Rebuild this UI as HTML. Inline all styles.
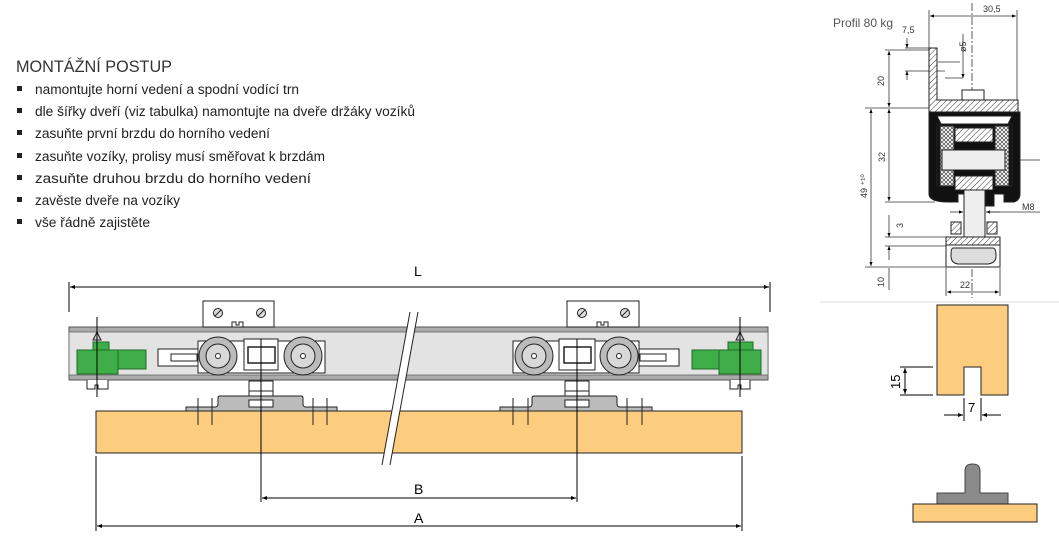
<!DOCTYPE html>
<html><head><meta charset="utf-8"><style>
html,body{margin:0;padding:0;background:#fff;}
svg{display:block;}
text{font-family:"Liberation Sans",sans-serif;}
</style></head><body>
<svg width="1059" height="553" viewBox="0 0 1059 553" xmlns="http://www.w3.org/2000/svg">
<defs>
<pattern id="h" width="4" height="4" patternUnits="userSpaceOnUse" patternTransform="rotate(45)"><rect width="4" height="4" fill="#fff"/><line x1="0" y1="0" x2="0" y2="4" stroke="#333" stroke-width="1"/></pattern>
<pattern id="x" width="4" height="4" patternUnits="userSpaceOnUse"><rect width="4" height="4" fill="#fff"/><path d="M0 0L4 4M4 0L0 4" stroke="#444" stroke-width="0.7"/></pattern>
<marker id="a" viewBox="0 0 10 10" refX="10" refY="5" markerWidth="7" markerHeight="5" orient="auto-start-reverse"><path d="M0 1L10 5L0 9z" fill="#000"/></marker>
</defs>

<!-- Text -->
<text x="16" y="72" font-size="17" fill="#333" textLength="156" lengthAdjust="spacingAndGlyphs">MONTÁŽNÍ POSTUP</text>
<g font-size="13.5" fill="#222">
<rect x="17" y="86" width="5" height="5" fill="#222"/><text x="35" y="94" textLength="264" lengthAdjust="spacingAndGlyphs">namontujte horní vedení a spodní vodící trn</text>
<rect x="17" y="108" width="5" height="5" fill="#222"/><text x="35" y="116" textLength="380" lengthAdjust="spacingAndGlyphs">dle šířky dveří (viz tabulka) namontujte na dveře držáky vozíků</text>
<rect x="17" y="130" width="5" height="5" fill="#222"/><text x="35" y="138" textLength="235" lengthAdjust="spacingAndGlyphs">zasuňte první brzdu do horního vedení</text>
<rect x="17" y="153" width="5" height="5" fill="#222"/><text x="35" y="161" textLength="290" lengthAdjust="spacingAndGlyphs">zasuňte vozíky, prolisy musí směřovat k brzdám</text>
<rect x="17" y="175" width="5" height="5" fill="#222"/><text x="35" y="183" textLength="276" lengthAdjust="spacingAndGlyphs">zasuňte druhou brzdu do horního vedení</text>
<rect x="17" y="197" width="5" height="5" fill="#222"/><text x="35" y="205" textLength="145" lengthAdjust="spacingAndGlyphs">zavěste dveře na vozíky</text>
<rect x="17" y="219" width="5" height="5" fill="#222"/><text x="35" y="227" textLength="115" lengthAdjust="spacingAndGlyphs">vše řádně zajistěte</text>
</g>

<!-- L dimension -->
<g stroke="#000" stroke-width="1" fill="none">
<line x1="69" y1="282" x2="69" y2="312"/><line x1="770" y1="282" x2="770" y2="312"/>
<line x1="70" y1="287" x2="769" y2="287" marker-start="url(#a)" marker-end="url(#a)"/>
</g>
<text x="414" y="276" font-size="14">L</text>

<!-- Rail -->
<rect x="69" y="327" width="699" height="53" fill="#aaa" stroke="#555" stroke-width="1"/>
<rect x="69" y="332" width="699" height="43" fill="#e3e3e3" stroke="#666" stroke-width="0.8"/>

<!-- Door -->
<rect x="96" y="411" width="646" height="42" fill="#fccd7e" stroke="#222" stroke-width="1"/>

<!-- carriages -->
<g stroke="#222" stroke-width="1">
<rect x="203" y="301" width="71" height="26" fill="#fff"/>
<circle cx="218" cy="313" r="4.5" fill="#ddd"/><line x1="215" y1="316" x2="221" y2="310"/>
<circle cx="261" cy="313" r="4.5" fill="#ddd"/><line x1="258" y1="316" x2="264" y2="310"/>
<path d="M232 327v-5h4v3h3v-3h4v5" fill="none"/>
<rect x="158" y="349" width="40" height="17" fill="#fff"/>
<rect x="171" y="354" width="26" height="7" fill="#fff"/>
<rect x="198" y="341" width="127" height="32" fill="#fff"/>
<rect x="244" y="339" width="34" height="31" fill="#fff"/>
<rect x="248" y="347" width="27" height="16" fill="#fff" stroke-width="1.5"/>
<circle cx="218" cy="356" r="19" fill="#bbb"/><circle cx="218" cy="356" r="12" fill="#d8d8d8"/><circle cx="218" cy="356" r="2.5" fill="#fff"/>
<circle cx="303" cy="356" r="19" fill="#bbb"/><circle cx="303" cy="356" r="12" fill="#d8d8d8"/><circle cx="303" cy="356" r="2.5" fill="#fff"/>
<rect x="249" y="381" width="24" height="10" fill="#fff"/>
<rect x="249" y="391" width="24" height="6" fill="#fff"/>
<path d="M186 411v-4h29q3 0 3-3v-6q0-2 2-2h81q2 0 2 2v6q0 3 3 3h31v4z" fill="#bbb"/>
<rect x="249" y="400" width="24" height="7" fill="#fff"/>
<line x1="198" y1="398" x2="198" y2="425"/><line x1="212" y1="398" x2="212" y2="425"/>
<line x1="313" y1="398" x2="313" y2="425"/><line x1="327" y1="398" x2="327" y2="425"/>
</g>
<g stroke="#222" stroke-width="1">
<rect x="567" y="301" width="72" height="26" fill="#fff"/>
<circle cx="582" cy="313" r="4.5" fill="#ddd"/><line x1="579" y1="316" x2="585" y2="310"/>
<circle cx="625" cy="313" r="4.5" fill="#ddd"/><line x1="622" y1="316" x2="628" y2="310"/>
<path d="M597 327v-5h4v3h3v-3h4v5" fill="none"/>
<rect x="639" y="349" width="40" height="17" fill="#fff"/>
<rect x="640" y="354" width="26" height="7" fill="#fff"/>
<rect x="513" y="341" width="126" height="32" fill="#fff"/>
<rect x="559" y="339" width="36" height="31" fill="#fff"/>
<rect x="564" y="347" width="27" height="16" fill="#fff" stroke-width="1.5"/>
<circle cx="534" cy="356" r="19" fill="#bbb"/><circle cx="534" cy="356" r="12" fill="#d8d8d8"/><circle cx="534" cy="356" r="2.5" fill="#fff"/>
<circle cx="619" cy="356" r="19" fill="#bbb"/><circle cx="619" cy="356" r="12" fill="#d8d8d8"/><circle cx="619" cy="356" r="2.5" fill="#fff"/>
<rect x="565" y="381" width="24" height="10" fill="#fff"/>
<rect x="565" y="391" width="24" height="6" fill="#fff"/>
<path d="M500 411v-4h29q3 0 3-3v-6q0-2 2-2h81q2 0 2 2v6q0 3 3 3h32v4z" fill="#bbb"/>
<rect x="565" y="400" width="24" height="7" fill="#fff"/>
<line x1="513" y1="398" x2="513" y2="425"/><line x1="528" y1="398" x2="528" y2="425"/>
<line x1="627" y1="398" x2="627" y2="425"/><line x1="642" y1="398" x2="642" y2="425"/>
</g>

<!-- green stops -->
<g fill="#3fae49" stroke="#1f6a25" stroke-width="1">
<rect x="93" y="342" width="16" height="8"/><rect x="77" y="350" width="41" height="24"/><rect x="118" y="350" width="28" height="19"/>
<rect x="728" y="342" width="25" height="8"/><rect x="719" y="350" width="42" height="24"/><rect x="692" y="350" width="27" height="19"/>
</g>
<g stroke="#222" stroke-width="1" fill="#fff">
<path d="M87 380v9h8v-4h3v4h10v-9"/>
<path d="M730 380v9h8v-4h3v4h9v-9"/>
<path d="M93 340l4-8 4 8z" fill="#ccc"/><path d="M736 340l4-8 4 8z" fill="#ccc"/>
</g>
<g stroke="#000" stroke-width="1">
<line x1="97" y1="317" x2="97" y2="397"/><line x1="740" y1="317" x2="740" y2="397"/>
<line x1="261" y1="339" x2="261" y2="502"/><line x1="577" y1="339" x2="577" y2="502"/>
<line x1="96" y1="456" x2="96" y2="531"/><line x1="742" y1="456" x2="742" y2="531"/>
<line x1="262" y1="498" x2="576" y2="498" marker-start="url(#a)" marker-end="url(#a)"/>
<line x1="97" y1="526" x2="741" y2="526" marker-start="url(#a)" marker-end="url(#a)"/>
</g>
<text x="414" y="494" font-size="14">B</text>
<text x="414" y="523" font-size="14">A</text>

<!-- break -->
<polygon points="410,312 418,312 390,465 382,465" fill="#fff"/>
<line x1="410" y1="312" x2="382" y2="465" stroke="#222"/>
<line x1="418" y1="312" x2="390" y2="465" stroke="#222"/>

<!-- Right section drawing -->
<text x="833" y="27" font-size="12" fill="#555">Profil 80 kg</text>
<line x1="820" y1="302" x2="1059" y2="302" stroke="#ddd"/>
<g stroke="#333" stroke-width="0.8" fill="none" font-size="9">
<line x1="972" y1="3" x2="972" y2="298" stroke-dasharray="8 2 2 2"/>
<line x1="929" y1="10" x2="929" y2="48"/><line x1="1017" y1="10" x2="1017" y2="100"/>
<line x1="930" y1="16" x2="1016" y2="16" marker-start="url(#a)" marker-end="url(#a)"/>
<line x1="885" y1="50" x2="929" y2="50"/><line x1="865" y1="108" x2="929" y2="108"/>
<line x1="885" y1="202" x2="935" y2="202"/><line x1="885" y1="237" x2="946" y2="237"/><line x1="885" y1="246" x2="946" y2="246"/>
<line x1="865" y1="267" x2="946" y2="267"/>
<line x1="889" y1="51" x2="889" y2="107" marker-start="url(#a)" marker-end="url(#a)"/>
<line x1="889" y1="109" x2="889" y2="201" marker-start="url(#a)" marker-end="url(#a)"/>
<line x1="889" y1="215" x2="889" y2="237" marker-end="url(#a)"/><line x1="889" y1="260" x2="889" y2="246" marker-end="url(#a)"/>
<line x1="889" y1="268" x2="889" y2="290"/>
<line x1="871" y1="109" x2="871" y2="266" marker-start="url(#a)" marker-end="url(#a)"/>
<line x1="907" y1="38" x2="907" y2="48" marker-end="url(#a)"/><line x1="907" y1="80" x2="907" y2="71" marker-end="url(#a)"/>
<line x1="905" y1="48" x2="935" y2="48"/><line x1="905" y1="71" x2="945" y2="71"/>
<line x1="963" y1="34" x2="963" y2="78" marker-end="url(#a)"/>
<line x1="938" y1="62" x2="960" y2="62"/><line x1="945" y1="78" x2="963" y2="78"/>
<line x1="946" y1="268" x2="946" y2="296"/><line x1="1000" y1="268" x2="1000" y2="296"/>
<line x1="947" y1="292" x2="999" y2="292" marker-start="url(#a)" marker-end="url(#a)"/>
<line x1="950" y1="212" x2="963" y2="212" marker-end="url(#a)"/><line x1="1000" y1="212" x2="986" y2="212" marker-end="url(#a)"/>
<line x1="986" y1="212" x2="1040" y2="212"/>
<line x1="1000" y1="160" x2="1040" y2="160"/>
</g>
<g font-size="9" fill="#333">
<text x="983" y="12">30,5</text>
<text x="902" y="33">7,5</text>
<text x="1022" y="210">M8</text>
<text x="960" y="288">22</text>
<text transform="translate(884,86) rotate(-90)">20</text>
<text transform="translate(885,162) rotate(-90)">32</text>
<text transform="translate(867,198) rotate(-90)">49 ⁺¹⁰</text>
<text transform="translate(903,228) rotate(-90)">3</text>
<text transform="translate(884,287) rotate(-90)">10</text>
<text transform="translate(966,52) rotate(-90)">ø5</text>
</g>
<g stroke="#222" stroke-width="1">
<path d="M929 48h8v52h81v12h-89z" fill="url(#h)"/>
<rect x="962" y="90" width="22" height="10" fill="#fff"/>
<path d="M929 112h91v82q0 6-6 8h-10v-8h-10v12h-26v-12h-10v8h-10q-19 0-19-8z" fill="#111"/>
<path d="M937 116h75l-4 8h-67z" fill="#fff"/>
<path d="M937 124h75v62h-75z" fill="#111"/>
<rect x="940" y="126" width="14" height="60" fill="url(#x)"/>
<rect x="995" y="126" width="14" height="60" fill="url(#x)"/>
<rect x="955" y="128" width="38" height="14" fill="url(#h)"/>
<rect x="955" y="176" width="38" height="14" fill="url(#h)"/>
<rect x="942" y="150" width="63" height="20" fill="#eee"/>
<rect x="964" y="190" width="21" height="48" fill="#eee"/>
<rect x="951" y="222" width="10" height="12" fill="url(#h)"/><rect x="987" y="222" width="10" height="12" fill="url(#h)"/>
<rect x="946" y="237" width="54" height="8" fill="url(#h)"/>
<path d="M946 245h54v22h-54z" fill="#fff"/>
<path d="M953 248h40q3 0 3 8q0 7-8 8h-30q-7-1-7-8q0-8 2-8z" fill="#ddd"/>
</g>

<!-- bottom right shapes -->
<path d="M937 305h71v90h-27v-28h-17v28h-27z" fill="#fccd7e" stroke="#222"/>
<g stroke="#000" stroke-width="1" fill="none">
<line x1="900" y1="367" x2="933" y2="367"/><line x1="900" y1="395" x2="933" y2="395"/>
<line x1="905" y1="368" x2="905" y2="394" marker-start="url(#a)" marker-end="url(#a)"/>
<line x1="964" y1="398" x2="964" y2="421"/><line x1="981" y1="398" x2="981" y2="421"/>
<line x1="944" y1="415" x2="963" y2="415" marker-end="url(#a)"/><line x1="1001" y1="415" x2="982" y2="415" marker-end="url(#a)"/>
</g>
<text transform="translate(900,389) rotate(-90)" font-size="13">15</text>
<text x="968" y="412" font-size="13">7</text>
<path d="M937 504v-11h28v-22q0-7 7.5-7t7.5 7v22h28v11z" fill="#8a8a8a" stroke="#444"/>
<rect x="913" y="504" width="124" height="18" fill="#fccd7e" stroke="#222"/>
</svg>
</body></html>
